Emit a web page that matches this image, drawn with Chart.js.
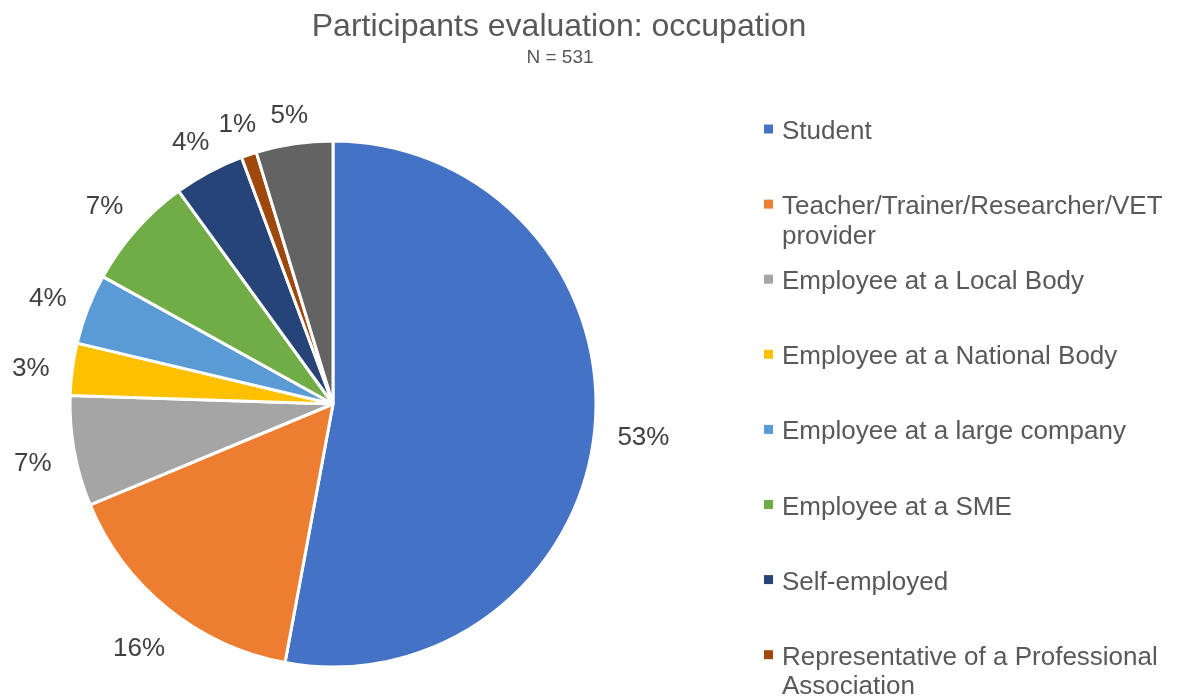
<!DOCTYPE html>
<html>
<head>
<meta charset="utf-8">
<title>Participants evaluation: occupation</title>
<script src="https://cdn.jsdelivr.net/npm/chart.js@4.4.1/dist/chart.umd.min.js"></script>
<style>
    html, body { margin: 0; padding: 0; background: #ffffff; overflow: hidden; }
    #wrap { width: 1183px; height: 696px; }
</style>
</head>
<body>
<div id="wrap"><canvas id="graficoOcupacion" width="1183" height="696"></canvas></div>
<script>
const chartTitle = "Participants evaluation: occupation";
const chartSubtitle = "N = 531";

const categories = [
    "Student",
    "Teacher/Trainer/Researcher/VET provider",
    "Employee at a Local Body",
    "Employee at a National Body",
    "Employee at a large company",
    "Employee at a SME",
    "Self-employed",
    "Representative of a Professional Association",
    "Other"
];
// participants per occupation (N = 531)
const counts = [281, 84, 36, 17, 23, 37, 23, 5, 25];
const sliceColors = [
    "#4472C4", "#ED7D31", "#A5A5A5", "#FFC000", "#5B9BD5",
    "#70AD47", "#264478", "#9E480E", "#636363"
];

const FONT = "'Liberation Sans', Arial, sans-serif";

const titlePlugin = {
    id: "titulo",
    afterDraw(chart) {
        const c = chart.ctx;
        c.save();
        c.fillStyle = "#595959";
        c.textAlign = "center";
        c.textBaseline = "alphabetic";
        c.font = "32px " + FONT;
        c.fillText(chartTitle, 559, 36);
        c.font = "19px " + FONT;
        c.fillText(chartSubtitle, 560, 63);
        c.restore();
    }
};

const pctPlugin = {
    id: "porcentajes",
    afterDatasetsDraw(chart) {
        const c = chart.ctx;
        const meta = chart.getDatasetMeta(0);
        const values = chart.data.datasets[0].data;
        const total = values.reduce((a, b) => a + b, 0);
        c.save();
        c.font = "26px " + FONT;
        c.fillStyle = "#404040";
        c.textAlign = "center";
        c.textBaseline = "middle";
        meta.data.forEach((arc, i) => {
            const p = arc.getProps(["x", "y", "startAngle", "endAngle", "outerRadius"], true);
            const mid = (p.startAngle + p.endAngle) / 2;
            const txt = Math.round(values[i] / total * 100) + "%";
            const hw = c.measureText(txt).width / 2;
            const cos = Math.cos(mid), sin = Math.sin(mid);
            const d = p.outerRadius + 22 + Math.abs(cos) * hw + Math.abs(sin) * 9;
            c.fillText(txt, p.x + cos * d, p.y + sin * d + 5);
        });
        c.restore();
    }
};

const legendPlugin = {
    id: "leyenda",
    afterDraw(chart) {
        const c = chart.ctx;
        const colors = chart.data.datasets[0].backgroundColor;
        const textX = 782, maxW = 398;
        c.save();
        c.font = "26px " + FONT;
        c.textAlign = "left";
        c.textBaseline = "alphabetic";
        chart.data.labels.forEach((label, i) => {
            const base = 139 + 75.1 * i;
            // wrap long labels word by word
            const lines = [];
            let line = "";
            label.split(" ").forEach(w => {
                const test = line ? line + " " + w : w;
                if (line && c.measureText(test).width > maxW) {
                    lines.push(line);
                    line = w;
                } else {
                    line = test;
                }
            });
            lines.push(line);
            c.fillStyle = colors[i];
            c.fillRect(764, base - 14.5, 9, 9);
            c.fillStyle = "#595959";
            lines.forEach((l, k) => c.fillText(l, textX, base + k * 29.5));
        });
        c.restore();
    }
};

new Chart(document.getElementById("graficoOcupacion"), {
    type: "pie",
    data: {
        labels: categories,
        datasets: [{
            data: counts,
            backgroundColor: sliceColors,
            borderColor: "#ffffff",
            borderWidth: 3,
            radius: 263
        }]
    },
    options: {
        responsive: false,
        animation: false,
        layout: {
            padding: { left: 68, right: 585, top: 139, bottom: 27 }
        },
        plugins: {
            legend: { display: false },
            tooltip: { enabled: false },
            title: { display: false }
        }
    },
    plugins: [pctPlugin, titlePlugin, legendPlugin]
});
</script>
</body>
</html>
